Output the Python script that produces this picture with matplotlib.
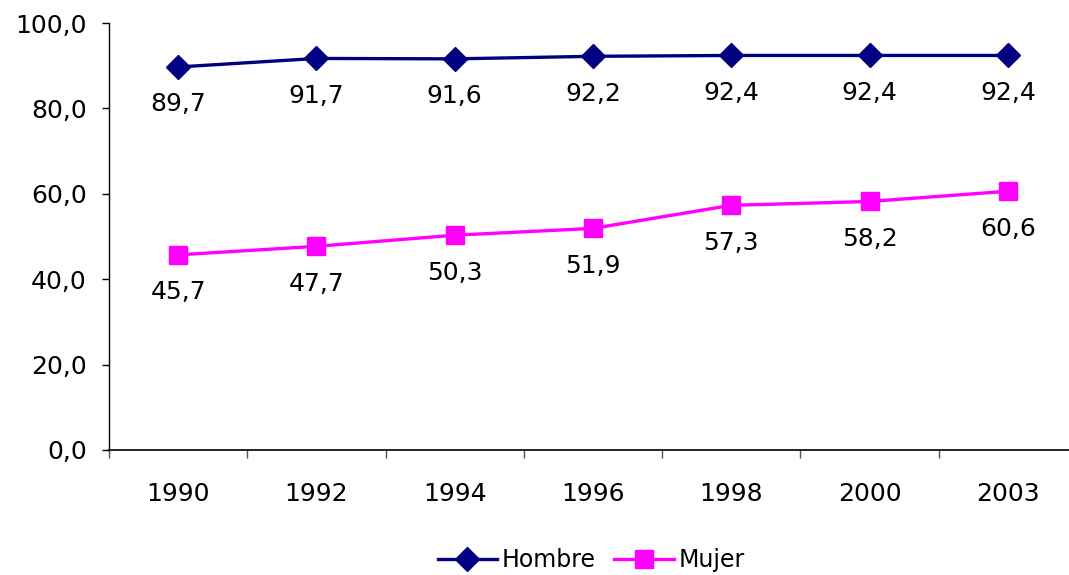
import matplotlib
matplotlib.use("Agg")
import matplotlib.pyplot as plt
from matplotlib.ticker import FuncFormatter

years = ["1990", "1992", "1994", "1996", "1998", "2000", "2003"]
hombre = [89.7, 91.7, 91.6, 92.2, 92.4, 92.4, 92.4]
mujer = [45.7, 47.7, 50.3, 51.9, 57.3, 58.2, 60.6]
y_ticks = [0, 20, 40, 60, 80, 100]


def coma(v, _pos=None):
    return f"{v:.1f}".replace(".", ",")


plt.rcParams["font.family"] = ["DejaVu Sans"]
plt.rcParams["font.size"] = 18

fig = plt.figure(figsize=(10.69, 5.75), dpi=100)
ax = fig.add_axes([109 / 1069, 1 - 450 / 575, (1077 - 109) / 1069, 427 / 575])

x = list(range(len(years)))
ax.plot(x, hombre, color="#000080", lw=2.4, marker="D", ms=12.5,
        label="Hombre", clip_on=False)
ax.plot(x, mujer, color="#FF00FF", lw=2.4, marker="s", ms=12.5,
        label="Mujer", clip_on=False)

for xi, v in zip(x, hombre):
    ax.annotate(coma(v), (xi, v), xytext=(0, -27), textcoords="offset points",
                ha="center", va="center", fontsize=18)
for xi, v in zip(x, mujer):
    ax.annotate(coma(v), (xi, v), xytext=(0, -27), textcoords="offset points",
                ha="center", va="center", fontsize=18)

ax.set_xlim(-0.5, len(years) - 0.5)
ax.set_ylim(0, 100)
ax.set_yticks(y_ticks)
ax.yaxis.set_major_formatter(FuncFormatter(coma))
ax.set_xticks(x)
ax.set_xticklabels(years)
ax.set_xticks([i - 0.5 for i in range(len(years) + 1)], minor=True)
ax.tick_params(axis="x", which="major", length=0, pad=23, labelsize=18)
ax.tick_params(axis="x", which="minor", length=6, width=1, color="#555555",
               direction="out")
ax.tick_params(axis="y", length=5, width=1, pad=11, labelsize=18)

for s in ["top", "right"]:
    ax.spines[s].set_visible(False)
ax.spines["left"].set_linewidth(1)
ax.spines["bottom"].set_linewidth(1.2)

fig.legend(loc="center", bbox_to_anchor=(0.553, 1 - 560 / 575), ncol=2,
           frameon=False, fontsize=17, handlelength=2.5, handletextpad=0.2,
           columnspacing=0.8)

fig.savefig("out.png", dpi=100)
